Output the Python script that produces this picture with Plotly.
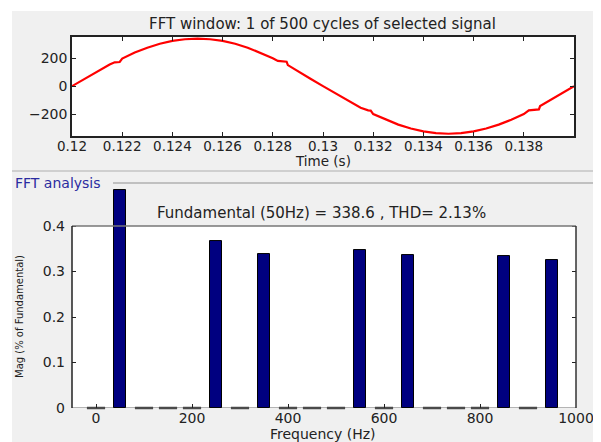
import plotly.graph_objects as go

# ---- data ----
time_s = [0.1200, 0.1205, 0.1210, 0.1215, 0.1217, 0.1219, 0.1220, 0.1225, 0.1230, 0.1235,
          0.1240, 0.1245, 0.1250, 0.1255, 0.1260, 0.1265, 0.1270, 0.1275, 0.1280, 0.1282,
          0.12855, 0.1286, 0.1290, 0.1295, 0.1300, 0.1305, 0.1310, 0.1315, 0.1318, 0.1319,
          0.1320, 0.1325, 0.1330, 0.1335, 0.1340, 0.1345, 0.1350, 0.1355, 0.1360, 0.1365,
          0.1370, 0.1375, 0.1380, 0.1382, 0.13860, 0.13865, 0.1390, 0.1395, 0.1400]
signal = [0, 53, 105, 154, 170, 172, 196, 239, 274, 302,
          322, 334, 339, 334, 322, 302, 274, 239, 199, 180,
          174, 150, 105, 53, 0, -53, -105, -154, -172, -174,
          -199, -239, -274, -302, -322, -334, -339, -334, -322, -302,
          -274, -239, -199, -172, -166, -142, -105, -53, 0]

freq_hz = [0, 50, 100, 150, 200, 250, 300, 350, 400, 450,
           500, 550, 600, 650, 700, 750, 800, 850, 900, 950]
mag_pct = [0, 0.479, 0, 0, 0, 0.368, 0, 0.338, 0, 0,
           0, 0.347, 0, 0.337, 0, 0, 0, 0.334, 0, 0.325]

top_xticks = [0.12, 0.122, 0.124, 0.126, 0.128, 0.13, 0.132, 0.134, 0.136, 0.138]
top_yticks = [-200, 0, 200]
bot_xticks = [0, 200, 400, 600, 800, 1000]
bot_yticks = [0, 0.1, 0.2, 0.3, 0.4]
bot_ymax = 0.4

# page body has an 8px margin: figure sits at (8, 8) in the 601x442 window
OFF = 8
W, H = 601 - OFF, 442 - OFF
def px(x): return (x - OFF) / W
def py(y): return 1 - (y - OFF) / H

FONT = "DejaVu Sans"
TXT = "#222222"
fig = go.Figure()

fig.add_trace(go.Scatter(x=time_s, y=signal, mode="lines",
                         line=dict(color="#ff0000", width=2.2),
                         xaxis="x", yaxis="y", showlegend=False))

fig.add_trace(go.Bar(x=freq_hz, y=mag_pct, width=25,
                     marker=dict(color="#000080", line=dict(color="#000000", width=1)),
                     xaxis="x2", yaxis="y2", showlegend=False))

zero_f = [f for f, m in zip(freq_hz, mag_pct) if m == 0]
zero_m = [m for m in mag_pct if m == 0]
fig.add_trace(go.Scatter(x=zero_f, y=zero_m, mode="markers",
                         marker=dict(symbol="line-ew", size=13,
                                     line=dict(color="#4a4a4a", width=2.5)),
                         cliponaxis=False, xaxis="x2", yaxis="y2", showlegend=False))

tickfont = dict(family=FONT, size=14, color=TXT)
base = dict(ticks="inside", ticklen=4, tickcolor="#222222", showgrid=False,
            zeroline=False, automargin=False)

# bottom panel: y range extended so the tallest bar may rise above the 0.4 box
bot_range_top = 0.49
bot_dom_top_px = 408 - (408 - 226) / bot_ymax * bot_range_top

fig.update_layout(
    width=W, height=H,
    margin=dict(l=0, r=0, t=0, b=0),
    paper_bgcolor="#f0f0f0", plot_bgcolor="rgba(0,0,0,0)",
    font=dict(family=FONT, color=TXT),
    xaxis=dict(domain=[px(72), px(574)], anchor="y", range=[0.12, 0.14],
               tickvals=top_xticks, ticktext=[f"{v:g}" for v in top_xticks],
               tickfont=dict(family=FONT, size=13.5, color=TXT), ticklabelstandoff=-3,
               showline=True, linecolor="#222222", linewidth=1.5, mirror="allticks", **base),
    yaxis=dict(domain=[py(136), py(37)], anchor="x", range=[-355, 350],
               tickvals=top_yticks, tickfont=tickfont, showline=True, linecolor="#222222",
               linewidth=1.5, mirror="allticks", **base),
    xaxis2=dict(domain=[px(72), px(576)], anchor="y2", range=[-50, 1000],
                tickvals=bot_xticks, tickfont=tickfont, showline=False, **base),
    xaxis3=dict(overlaying="x2", side="top", anchor="free", position=py(226),
                range=[-50, 1000], tickvals=bot_xticks, showticklabels=False,
                showline=False, **base),
    yaxis2=dict(domain=[py(408), py(bot_dom_top_px)], anchor="x2", range=[0, bot_range_top],
                tickvals=bot_yticks, ticktext=[f"{v:g}" for v in bot_yticks],
                tickfont=tickfont, showline=False, mirror="allticks",
                ticklabelstandoff=6, **base),
    bargap=0,
)

shapes = [
    dict(type="rect", xref="paper", yref="paper", x0=0, x1=1, y0=py(11), y1=1,
         fillcolor="#ffffff", line=dict(width=0), layer="below"),
    dict(type="rect", xref="paper", yref="paper", x0=0, x1=px(12), y0=0, y1=1,
         fillcolor="#ffffff", line=dict(width=0), layer="below"),
    dict(type="line", xref="paper", yref="paper", x0=px(12), x1=1, y0=py(171), y1=py(171),
         line=dict(color="#cfcfcf", width=2), layer="below"),
    dict(type="line", xref="paper", yref="paper", x0=px(113), x1=1, y0=py(183), y1=py(183),
         line=dict(color="#b0b0b0", width=1.5), layer="below"),
    # plot area backgrounds
    dict(type="rect", xref="x domain", yref="y domain", x0=0, x1=1, y0=0, y1=1,
         fillcolor="#ffffff", line=dict(width=0), layer="below"),
    dict(type="rect", xref="x2 domain", yref="y2", x0=0, x1=1, y0=0, y1=bot_ymax,
         fillcolor="#ffffff", line=dict(width=0), layer="below"),
    # bottom panel box
    dict(type="line", xref="x2 domain", yref="y2", x0=0, x1=1, y0=0, y1=0,
         line=dict(color="#b4b4b4", width=2), layer="below"),
    dict(type="line", xref="x2 domain", yref="y2", x0=0, x1=1, y0=bot_ymax, y1=bot_ymax,
         line=dict(color="#777777", width=1.5), layer="above"),
    dict(type="line", xref="x2 domain", yref="y2", x0=0, x1=0, y0=0, y1=bot_ymax,
         line=dict(color="#222222", width=1.5), layer="above"),
    dict(type="line", xref="x2 domain", yref="y2", x0=1, x1=1, y0=0, y1=bot_ymax,
         line=dict(color="#333333", width=1.5), layer="above"),
]
fig.update_layout(shapes=shapes)

ann = [
    dict(text="FFT window: 1 of 500 cycles of selected signal", x=px(322), y=py(24),
         font=dict(size=15)),
    dict(text="Time (s)", x=px(323), y=py(161), font=dict(size=13.5)),
    dict(text="FFT analysis", x=px(13), y=py(183), xanchor="left",
         font=dict(size=14, color="#2b2ba0")),
    dict(text="Fundamental (50Hz) = 338.6 , THD= 2.13%", x=px(321), y=py(213),
         font=dict(size=15)),
    dict(text="Frequency (Hz)", x=px(323), y=py(434), font=dict(size=14)),
    dict(text="Mag (% of Fundamental)", x=px(19), y=py(317), textangle=-90,
         font=dict(size=10)),
]
for a in ann:
    a.setdefault("xanchor", "center")
    a.update(xref="paper", yref="paper", yanchor="middle", showarrow=False)
    a["font"].setdefault("family", FONT)
    a["font"].setdefault("color", TXT)
fig.update_layout(annotations=ann)

fig.write_html("out.html")
